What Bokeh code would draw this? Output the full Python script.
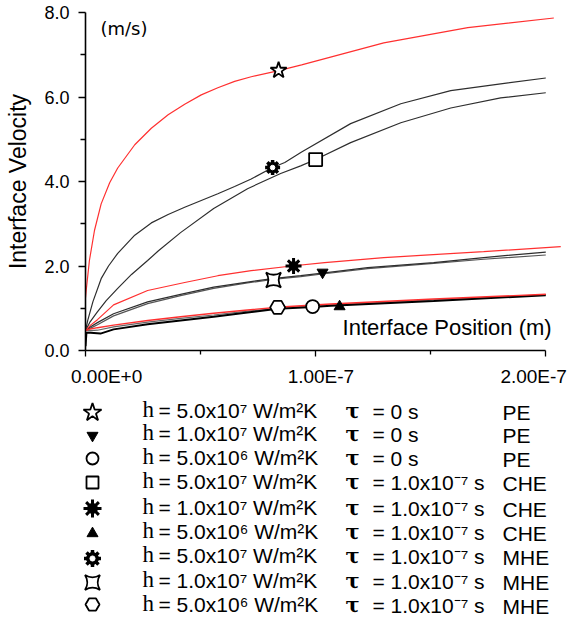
from bokeh.plotting import figure
from bokeh.models import Range1d, FixedTicker, Label
from bokeh.layouts import column
from bokeh.core.properties import value
from bokeh.embed import file_html
from bokeh.resources import INLINE

# ---------------- data (x in units of 1e-7 m, y in m/s) ----------------
# PE, h = 5.0e7 (red, top)
x_pe_5e7 = [0.0, 0.003, 0.017, 0.039, 0.068, 0.105, 0.14, 0.214, 0.286, 0.359, 0.431, 0.503, 0.575,
            0.648, 0.72, 0.835, 0.939, 1.296, 1.661, 2.035]
y_pe_5e7 = [1.25, 1.42, 2.13, 2.84, 3.47, 3.97, 4.32, 4.87, 5.26, 5.58, 5.83, 6.05, 6.22,
            6.37, 6.48, 6.62, 6.76, 7.28, 7.64, 7.87]

# MHE, h = 5.0e7 (black, upper)
x_mhe_5e7 = [0.0, 0.01, 0.032, 0.068, 0.1, 0.14, 0.214, 0.286, 0.359, 0.431, 0.503, 0.575, 0.648, 0.72,
             0.813, 0.866, 0.939, 1.152, 1.37, 1.587, 1.804, 2.0]
y_mhe_5e7 = [0.47, 0.72, 1.15, 1.7, 2.0, 2.3, 2.73, 3.02, 3.22, 3.39, 3.55, 3.71, 3.88, 4.06,
             4.33, 4.45, 4.7, 5.37, 5.84, 6.15, 6.31, 6.45]

# CHE, h = 5.0e7 (black, lower of the upper pair)
x_che_5e7 = [0.0, 0.02, 0.05, 0.09, 0.14, 0.2, 0.27, 0.317, 0.413, 0.557, 0.704, 0.848, 0.935, 1.0,
             1.152, 1.37, 1.587, 1.804, 2.0]
y_che_5e7 = [0.47, 0.68, 0.9, 1.18, 1.47, 1.8, 2.13, 2.36, 2.79, 3.36, 3.83, 4.19, 4.37, 4.52,
             4.92, 5.39, 5.74, 5.98, 6.1]

# PE, h = 1.0e7 (red, middle)
x_pe_1e7 = [0.0, 0.022, 0.052, 0.122, 0.27, 0.431, 0.575, 0.72, 0.895, 1.039, 1.296, 1.73, 2.065]
y_pe_1e7 = [0.47, 0.6, 0.73, 1.08, 1.42, 1.61, 1.77, 1.89, 2.0, 2.08, 2.2, 2.34, 2.46]

# CHE / MHE, h = 1.0e7 (black, middle pair)
x_mid = [0.0, 0.022, 0.052, 0.122, 0.27, 0.413, 0.557, 0.704, 0.813, 0.935, 1.03, 1.226, 1.513, 1.73, 2.0]
y_che_1e7 = [0.47, 0.56, 0.66, 0.87, 1.15, 1.33, 1.5, 1.62, 1.7, 1.77, 1.83, 1.96, 2.08, 2.2, 2.33]
y_mhe_1e7 = [0.47, 0.53, 0.61, 0.82, 1.11, 1.3, 1.47, 1.6, 1.68, 1.75, 1.81, 1.94, 2.06, 2.16, 2.26]

# PE, h = 5.0e6 (red, lower) and MHE, h = 5.0e6 (grey, lower)
x_low = [0.0, 0.022, 0.052, 0.122, 0.27, 0.413, 0.557, 0.704, 0.848, 1.065, 1.513, 2.0]
y_pe_5e6 = [0.47, 0.51, 0.54, 0.6, 0.71, 0.8, 0.88, 0.96, 1.03, 1.1, 1.22, 1.33]
y_mhe_5e6 = [0.47, 0.47, 0.48, 0.56, 0.67, 0.76, 0.84, 0.93, 1.01, 1.08, 1.2, 1.32]

# CHE, h = 5.0e6 (black, lowest, with start-up dip)
x_che_5e6 = [0.0, 0.004, 0.022, 0.065, 0.122, 0.27, 0.413, 0.557, 0.704, 0.835, 0.987, 1.065, 1.513, 2.0]
y_che_5e6 = [0.1, 0.42, 0.42, 0.40, 0.5, 0.62, 0.71, 0.8, 0.9, 0.99, 1.03, 1.06, 1.17, 1.31]

# symbols placed on the curves
mk_kind = ["star", "inverted_triangle", "circle", "square", "burst", "triangle", "sun", "square_pin", "hex"]
mk_x = [0.839, 1.03, 0.987, 1.0, 0.904, 1.104, 0.813, 0.817, 0.835]
mk_y = [6.63, 1.85, 1.04, 4.52, 2.0, 1.04, 4.33, 1.67, 1.02]

# legend texts
leg_h = ["= 5.0x10\u2077 W/m\u00b2K", "= 1.0x10\u2077 W/m\u00b2K", "= 5.0x10\u2076 W/m\u00b2K",
         "= 5.0x10\u2077 W/m\u00b2K", "= 1.0x10\u2077 W/m\u00b2K", "= 5.0x10\u2076 W/m\u00b2K",
         "= 5.0x10\u2077 W/m\u00b2K", "= 1.0x10\u2077 W/m\u00b2K", "= 5.0x10\u2076 W/m\u00b2K"]
leg_tau = ["= 0 s", "= 0 s", "= 0 s"] + ["= 1.0x10\u207b\u2077 s"] * 6
leg_model = ["PE", "PE", "PE", "CHE", "CHE", "CHE", "MHE", "MHE", "MHE"]

x_ticks = [0, 1, 2]
x_tick_labels = ["0.00E+0", "1.00E-7", "2.00E-7"]
x_minor = [0.5, 1.5]
y_ticks = [0, 2, 4, 6, 8]
y_tick_labels = ["0.0", "2.0", "4.0", "6.0", "8.0"]
y_minor = [1, 3, 5, 7]

RED = "#ff3030"
DARK = "#2e2e2e"
FS = "\u2007"  # figure space, used to nudge tick labels as in the original


def draw_marker(fig, xs, ys, kind, size, level="glyph"):
    if kind in ("star", "circle", "square", "square_pin", "hex"):
        fig.scatter(xs, ys, marker=kind, size=size, fill_color="white", line_color="black",
                    line_width=1.8, level=level)
    elif kind in ("triangle", "inverted_triangle"):
        fig.scatter(xs, ys, marker=kind, size=size, fill_color="black", line_color="black",
                    line_width=1, level=level)
    elif kind == "burst":
        fig.scatter(xs, ys, marker="asterisk", size=size, line_color="black", line_width=3, level=level)
        fig.scatter(xs, ys, marker="circle", size=size * 0.55, fill_color="black", line_color="black",
                    level=level)
    elif kind == "sun":
        fig.scatter(xs, ys, marker="asterisk", size=size, line_color="black", line_width=3.5, level=level)
        fig.scatter(xs, ys, marker="circle", size=size * 0.7, fill_color="black", line_color="black",
                    level=level)
        fig.scatter(xs, ys, marker="circle", size=size * 0.3, fill_color="white", line_color="white",
                    level=level)


FONT = "Liberation Sans"

# ---------------- main chart ----------------
p = figure(frame_width=481, frame_height=338,
           x_range=Range1d(0, 2.09), y_range=Range1d(0, 8),
           output_backend="svg", toolbar_location=None,
           min_border_left=85, min_border_right=11, min_border_top=12, min_border_bottom=40)
p.xgrid.visible = False
p.ygrid.visible = False
p.outline_line_color = None

p.line(x_pe_5e7, y_pe_5e7, line_color=RED, line_width=1.2)
p.line(x_mhe_5e7, y_mhe_5e7, line_color=DARK, line_width=1.2)
p.line(x_che_5e7, y_che_5e7, line_color=DARK, line_width=1.2)
p.line(x_mid, y_mhe_1e7, line_color="#555555", line_width=1.2)
p.line(x_mid, y_che_1e7, line_color=DARK, line_width=1.2)
p.line(x_pe_1e7, y_pe_1e7, line_color=RED, line_width=1.2)
p.line(x_low, y_mhe_5e6, line_color="#666666", line_width=1.2)
p.line(x_che_5e6, y_che_5e6, line_color="black", line_width=2)
p.line(x_low, y_pe_5e6, line_color=RED, line_width=1.4)

plot_sizes = {"star": 17, "inverted_triangle": 11, "circle": 13, "square": 13, "burst": 16,
              "triangle": 11, "sun": 15, "square_pin": 15, "hex": 15}
for k, mx, my in zip(mk_kind, mk_x, mk_y):
    draw_marker(p, [mx], [my], k, plot_sizes[k])

xa = p.xaxis[0]
xa.ticker = FixedTicker(ticks=x_ticks, minor_ticks=x_minor)
xa.major_label_overrides = {0: FS * 4 + x_tick_labels[0],
                            1: FS + x_tick_labels[1],
                            2: x_tick_labels[2] + FS}
xa.bounds = (0, 2)
ya = p.yaxis[0]
ya.ticker = FixedTicker(ticks=y_ticks, minor_ticks=y_minor)
ya.major_label_overrides = {t: l for t, l in zip(y_ticks, y_tick_labels)}
ya.bounds = (0, 8)
ya.axis_label = "Interface Velocity"
ya.axis_label_text_font = FONT
ya.axis_label_text_font_size = "23px"
ya.axis_label_text_font_style = "normal"
ya.axis_label_text_color = "black"
ya.axis_label_standoff = 10

for ax in (xa, ya):
    ax.axis_line_color = "black"
    ax.axis_line_width = 1.6
    ax.major_tick_line_color = "black"
    ax.minor_tick_line_color = "black"
    ax.major_tick_line_width = 1.3
    ax.minor_tick_line_width = 1.3
    ax.major_tick_in = 0
    ax.minor_tick_in = 0
    ax.major_label_text_font = FONT
    ax.major_label_text_color = "black"
xa.major_tick_out = 6
xa.minor_tick_out = 4
xa.major_label_text_font_size = "19px"
xa.major_label_standoff = 9
ya.major_tick_out = 7
ya.minor_tick_out = 5
ya.major_label_text_font_size = "18px"
ya.major_label_standoff = 9

p.add_layout(Label(x=0.065, y=7.63, text="(m/s)", text_font="DejaVu Sans",
                   text_font_size="18px", text_baseline="middle", text_color="black"))
p.add_layout(Label(x=1.117, y=0.54, text="Interface Position (m)", text_font=FONT,
                   text_font_size="22px", text_baseline="middle", text_color="black"))

# ---------------- legend panel (coordinates = page pixels) ----------------
leg = figure(frame_width=481, frame_height=231, x_range=Range1d(85, 566), y_range=Range1d(621, 390),
             output_backend="svg", toolbar_location=None,
             min_border_left=85, min_border_right=11, min_border_top=0, min_border_bottom=0)
leg.axis.visible = False
leg.xgrid.visible = False
leg.ygrid.visible = False
leg.outline_line_color = None

row_y = [410, 433, 457, 481, 507, 531, 555, 580, 604]
mark_y = [412, 435, 458, 482, 508, 533, 558, 582, 604]
leg_sizes = {"star": 19, "inverted_triangle": 11, "circle": 12, "square": 12, "burst": 18,
             "triangle": 11, "sun": 17, "square_pin": 15, "hex": 14}
for k, my in zip(mk_kind, mark_y):
    draw_marker(leg, [92], [my], k, leg_sizes[k], level="overlay")

leg.text(x=[142] * 9, y=[r - 1 for r in row_y], text=["h"] * 9, text_font=value("Liberation Serif"),
         text_font_size="23px", text_baseline="middle", text_color="black")
leg.text(x=[158] * 9, y=row_y, text=leg_h, text_font=value(FONT),
         text_font_size="21px", text_baseline="middle", text_color="black")
leg.text(x=[345] * 9, y=row_y, text=["\u03c4"] * 9, text_font=value("DejaVu Serif"),
         text_font_size="21px", text_font_style="bold", text_baseline="middle", text_color="black")
leg.text(x=[372] * 9, y=[r + 1 for r in row_y], text=leg_tau, text_font=value(FONT),
         text_font_size="21px", text_baseline="middle", text_color="black")
leg.text(x=[502] * 9, y=[r + 2 for r in row_y], text=leg_model, text_font=value(FONT),
         text_font_size="21px", text_baseline="middle", text_color="black")

layout = column(p, leg, spacing=0)
open("out.html", "w").write(file_html(layout, INLINE))
